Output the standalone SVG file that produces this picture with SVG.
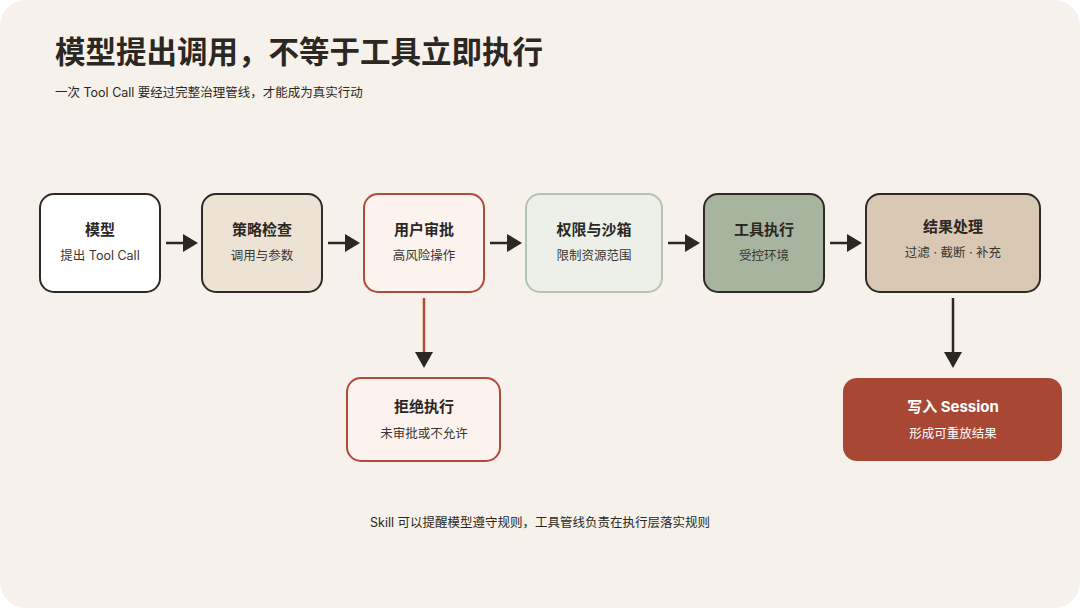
<svg xmlns="http://www.w3.org/2000/svg" width="1080" height="608" viewBox="0 0 1080 608">
<style>
text{font-family:"Inter","Noto Sans CJK SC",sans-serif;text-anchor:middle}
.t{font-size:15px;font-weight:700;fill:#2b2723}
.s{font-size:12.5px;fill:#3a3531}
.box{stroke:#2f2a26;stroke-width:2}
.red{stroke:#b24a35;stroke-width:2}
.conn{stroke:#2b2723;stroke-width:2.5;fill:none}
</style>
<rect width="1080" height="608" fill="#ffffff"/>
<rect x="0" y="0" width="1080" height="608" rx="26" fill="#f6f2eb"/>
<text x="55" y="63" style="text-anchor:start;font-size:30.5px;font-weight:700;fill:#2b2723">模型提出调用，不等于工具立即执行</text>
<text x="55" y="97" style="text-anchor:start;font-size:12.5px;fill:#2b2723">一次 Tool Call 要经过完整治理管线，才能成为真实行动</text>

<g id="connectors">
<line x1="166" y1="243" x2="184" y2="243" class="conn"/><path d="M183,234 L198,243 L183,252 Z" fill="#2b2723"/>
<line x1="328" y1="243" x2="346" y2="243" class="conn"/><path d="M345,234 L360,243 L345,252 Z" fill="#2b2723"/>
<line x1="490" y1="243" x2="508" y2="243" class="conn"/><path d="M507,234 L522,243 L507,252 Z" fill="#2b2723"/>
<line x1="668" y1="243" x2="686" y2="243" class="conn"/><path d="M685,234 L700,243 L685,252 Z" fill="#2b2723"/>
<line x1="830" y1="243" x2="848" y2="243" class="conn"/><path d="M847,234 L862,243 L847,252 Z" fill="#2b2723"/>
<line x1="424" y1="298" x2="424" y2="354" stroke="#b24a35" stroke-width="2.5"/><path d="M415,352 L424,368 L433,352 Z" fill="#2b2723"/>
<line x1="953" y1="298" x2="953" y2="354" class="conn"/><path d="M944,352 L953,368 L962,352 Z" fill="#2b2723"/>
</g>

<g id="n1"><rect x="40" y="194" width="120" height="98" rx="14" fill="#ffffff" class="box"/>
<text x="100" y="235" class="t">模型</text><text x="100" y="260" class="s">提出 Tool Call</text></g>
<g id="n2"><rect x="202" y="194" width="120" height="98" rx="14" fill="#ede3d5" class="box"/>
<text x="262" y="235" class="t">策略检查</text><text x="262" y="260" class="s">调用与参数</text></g>
<g id="n3"><rect x="364" y="194" width="120" height="98" rx="14" fill="#fdf3ee" class="red"/>
<text x="424" y="235" class="t">用户审批</text><text x="424" y="260" class="s">高风险操作</text></g>
<g id="n4"><rect x="526" y="194" width="136" height="98" rx="14" fill="#edf0e9" stroke="#b5c4b0" stroke-width="2"/>
<text x="594" y="235" class="t">权限与沙箱</text><text x="594" y="260" class="s">限制资源范围</text></g>
<g id="n5"><rect x="704" y="194" width="120" height="98" rx="14" fill="#a7b59f" class="box"/>
<text x="764" y="235" class="t">工具执行</text><text x="764" y="260" class="s">受控环境</text></g>
<g id="n6"><rect x="866" y="194" width="174" height="98" rx="14" fill="#d9c8b3" class="box"/>
<text x="953" y="232" class="t">结果处理</text><text x="953" y="257" class="s">过滤 · 截断 · 补充</text></g>
<g id="n7"><rect x="347" y="378" width="153" height="83" rx="14" fill="#fdf3ee" class="red"/>
<text x="424" y="412" class="t">拒绝执行</text><text x="424" y="438" class="s">未审批或不允许</text></g>
<g id="n8"><rect x="843" y="378" width="219" height="83" rx="14" fill="#a84834"/>
<text x="953" y="412" class="t" style="fill:#ffffff">写入 Session</text><text x="953" y="438" class="s" style="fill:#ffffff">形成可重放结果</text></g>

<text x="540" y="527" style="font-size:12.5px;fill:#2b2723">Skill 可以提醒模型遵守规则，工具管线负责在执行层落实规则</text>
</svg>
